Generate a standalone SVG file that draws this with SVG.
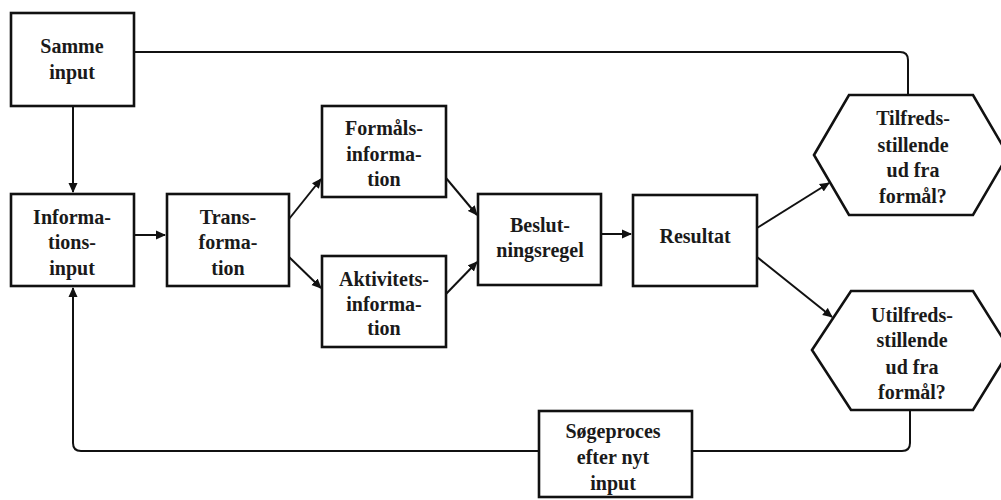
<svg xmlns="http://www.w3.org/2000/svg" width="1001" height="500" viewBox="0 0 1001 500">
<style>
.box{fill:#fff;stroke:#111;stroke-width:2.6}
.t{font-family:"Liberation Serif",serif;font-size:20px;font-weight:bold;fill:#1a1a1a;text-anchor:middle}
.c{fill:none;stroke:#111;stroke-width:2}
</style>
<defs>
<marker id="ah" viewBox="0 0 10 10" refX="9" refY="5" markerWidth="5" markerHeight="5" orient="auto" markerUnits="strokeWidth">
<path d="M0,0.5 L10,5 L0,9.5 Z" fill="#111"/>
</marker>
</defs>
<rect width="1001" height="500" fill="#fff"/>
<g id="connectors">
<path class="c" d="M134,52 H900 Q908,52 908,60 V95"/>
<path class="c" d="M73,106 V192" marker-end="url(#ah)"/>
<path class="c" d="M134,235 H165" marker-end="url(#ah)"/>
<path class="c" d="M289,219 L321,179" marker-end="url(#ah)"/>
<path class="c" d="M289,257 L321,288" marker-end="url(#ah)"/>
<path class="c" d="M446,178 L477,215" marker-end="url(#ah)"/>
<path class="c" d="M446,294 L477,262" marker-end="url(#ah)"/>
<path class="c" d="M601,234 H631" marker-end="url(#ah)"/>
<path class="c" d="M757,228 L829,183" marker-end="url(#ah)"/>
<path class="c" d="M757,257 L832,317" marker-end="url(#ah)"/>
<path class="c" d="M910,410 V443 Q910,451 902,451 H692"/>
<path class="c" d="M539,451 H81 Q73,451 73,443 V288" marker-end="url(#ah)"/>
</g>
<g id="samme-input">
<rect class="box" x="11" y="13" width="123" height="93"/>
<text class="t" x="72" y="53">Samme</text>
<text class="t" x="72" y="79">input</text>
</g>
<g id="informations-input">
<rect class="box" x="11" y="194" width="123" height="92"/>
<text class="t" x="72" y="224">Informa-</text>
<text class="t" x="72" y="249">tions-</text>
<text class="t" x="72" y="275">input</text>
</g>
<g id="transformation">
<rect class="box" x="167" y="194" width="122" height="92"/>
<text class="t" x="228" y="224">Trans-</text>
<text class="t" x="228" y="249">forma-</text>
<text class="t" x="228" y="275">tion</text>
</g>
<g id="formaals-information">
<rect class="box" x="322" y="106" width="124" height="91"/>
<text class="t" x="384" y="135">Formåls-</text>
<text class="t" x="384" y="161">informa-</text>
<text class="t" x="384" y="186">tion</text>
</g>
<g id="aktivitets-information">
<rect class="box" x="322" y="256" width="124" height="91"/>
<text class="t" x="384" y="286">Aktivitets-</text>
<text class="t" x="384" y="311">informa-</text>
<text class="t" x="384" y="335">tion</text>
</g>
<g id="beslutningsregel">
<rect class="box" x="478" y="194" width="123" height="91"/>
<text class="t" x="540" y="232">Beslut-</text>
<text class="t" x="540" y="257">ningsregel</text>
</g>
<g id="resultat">
<rect class="box" x="633" y="195" width="124" height="91"/>
<text class="t" x="695" y="243">Resultat</text>
</g>
<g id="tilfredsstillende">
<polygon class="box" points="814,155 849,95 973,95 1008,155 973,215 849,215"/>
<text class="t" x="913" y="125">Tilfreds-</text>
<text class="t" x="913" y="152">stillende</text>
<text class="t" x="913" y="177">ud fra</text>
<text class="t" x="913" y="203">formål?</text>
</g>
<g id="utilfredsstillende">
<polygon class="box" points="812,350 851,291 973,291 1010,350 973,410 851,410"/>
<text class="t" x="912" y="322">Utilfreds-</text>
<text class="t" x="912" y="347">stillende</text>
<text class="t" x="912" y="374">ud fra</text>
<text class="t" x="912" y="399">formål?</text>
</g>
<g id="soegeproces">
<rect class="box" x="539" y="411" width="153" height="86"/>
<text class="t" x="613" y="438">Søgeproces</text>
<text class="t" x="613" y="464">efter  nyt</text>
<text class="t" x="613" y="490">input</text>
</g>
</svg>
